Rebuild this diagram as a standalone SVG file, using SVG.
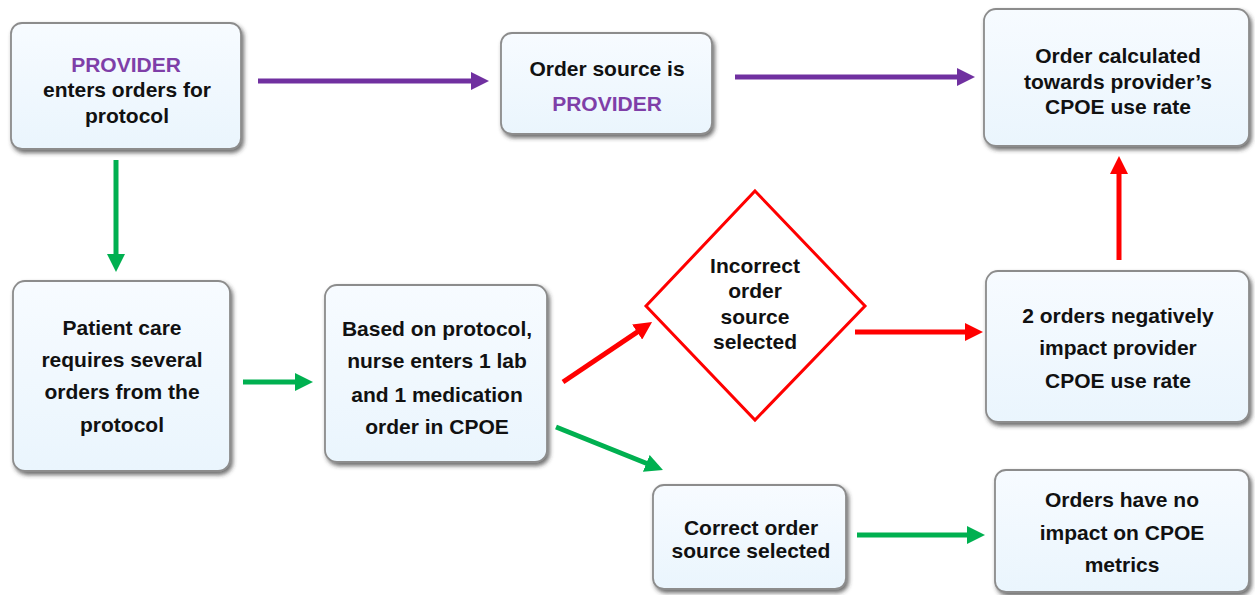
<svg xmlns="http://www.w3.org/2000/svg" width="1255" height="595" viewBox="0 0 1255 595">
<defs>
<linearGradient id="bg" x1="0" y1="0" x2="0" y2="1">
<stop offset="0" stop-color="#f7fbff"/>
<stop offset="1" stop-color="#eaf5fd"/>
</linearGradient>
<filter id="sh" x="-10%" y="-10%" width="125%" height="130%">
<feDropShadow dx="2" dy="3" stdDeviation="2" flood-color="#303030" flood-opacity="0.7"/>
</filter>
<marker id="ap" viewBox="0 0 18 18" refX="8" refY="9" markerWidth="18" markerHeight="18" markerUnits="userSpaceOnUse" orient="auto"><path d="M0,0 L18,9 L0,18 z" fill="#7030a0"/></marker>
<marker id="ag" viewBox="0 0 18 18" refX="8" refY="9" markerWidth="18" markerHeight="18" markerUnits="userSpaceOnUse" orient="auto"><path d="M0,0 L18,9 L0,18 z" fill="#00b050"/></marker>
<marker id="ar" viewBox="0 0 18 18" refX="8" refY="9" markerWidth="18" markerHeight="18" markerUnits="userSpaceOnUse" orient="auto"><path d="M0,0 L18,9 L0,18 z" fill="#ff0000"/></marker>
</defs>
<style>
.box{fill:url(#bg);stroke:#8c8c8c;stroke-width:1.8;filter:url(#sh)}
.t{font-family:"Liberation Sans",Arial,sans-serif;font-weight:bold;font-size:21px;fill:#111111;text-anchor:middle}
.pu{fill:#7f3fa8}
.cp{fill:none;stroke:#7030a0;stroke-width:5}
.cg{fill:none;stroke:#00b050;stroke-width:5}
.cr{fill:none;stroke:#ff0000;stroke-width:5}
</style>
<rect width="1255" height="595" fill="#ffffff"/>

<g id="connectors">
<line class="cp" x1="258" y1="81" x2="479" y2="81" marker-end="url(#ap)"/>
<line class="cp" x1="735" y1="77" x2="965" y2="77" marker-end="url(#ap)"/>
<line class="cg" x1="116" y1="160" x2="116" y2="262" marker-end="url(#ag)"/>
<line class="cg" x1="243" y1="382" x2="303" y2="382" marker-end="url(#ag)"/>
<line class="cr" x1="563" y1="382" x2="643.8" y2="327.6" marker-end="url(#ar)"/>
<line class="cg" x1="556" y1="427" x2="653.7" y2="466.3" marker-end="url(#ag)"/>
<line class="cr" x1="855" y1="332" x2="973" y2="332" marker-end="url(#ar)"/>
<line class="cr" x1="1119" y1="260" x2="1119" y2="166" marker-end="url(#ar)"/>
<line class="cg" x1="857" y1="535" x2="975" y2="535" marker-end="url(#ag)"/>
</g>

<g id="n-provider">
<rect class="box" x="11" y="23" width="230" height="126" rx="11"/>
<text class="t pu" x="126" y="72">PROVIDER</text>
<text class="t" x="127" y="97">enters orders for</text>
<text class="t" x="127" y="123">protocol</text>
</g>

<g id="n-source">
<rect class="box" x="501" y="33" width="211" height="101" rx="11"/>
<text class="t" x="607" y="76">Order source is</text>
<text class="t pu" x="607" y="111">PROVIDER</text>
</g>

<g id="n-calc">
<rect class="box" x="984" y="9" width="265" height="137" rx="12"/>
<text class="t" x="1118" y="63">Order calculated</text>
<text class="t" x="1118" y="89">towards provider’s</text>
<text class="t" x="1118" y="114">CPOE use rate</text>
</g>

<g id="n-patient">
<rect class="box" x="13" y="281" width="217" height="190" rx="12"/>
<text class="t" x="122" y="335">Patient care</text>
<text class="t" x="122" y="367">requires several</text>
<text class="t" x="122" y="399">orders from the</text>
<text class="t" x="122" y="432">protocol</text>
</g>

<g id="n-nurse">
<rect class="box" x="325" y="285" width="222" height="177" rx="12"/>
<text class="t" x="437" y="336">Based on protocol,</text>
<text class="t" x="437" y="368">nurse enters 1 lab</text>
<text class="t" x="437" y="402">and 1 medication</text>
<text class="t" x="437" y="434">order in CPOE</text>
</g>

<g id="n-incorrect">
<polygon points="755,191 865,306 755,420 646,306" fill="#ffffff" stroke="#ff0000" stroke-width="3"/>
<text class="t" x="755" y="273">Incorrect</text>
<text class="t" x="755" y="298">order</text>
<text class="t" x="755" y="324">source</text>
<text class="t" x="755" y="349">selected</text>
</g>

<g id="n-negative">
<rect class="box" x="986" y="271" width="263" height="151" rx="12"/>
<text class="t" x="1118" y="323">2 orders negatively</text>
<text class="t" x="1118" y="355">impact provider</text>
<text class="t" x="1118" y="388">CPOE use rate</text>
</g>

<g id="n-correct">
<rect class="box" x="653" y="485" width="193" height="104" rx="11"/>
<text class="t" x="751" y="535">Correct order</text>
<text class="t" x="751" y="558">source selected</text>
</g>

<g id="n-noimpact">
<rect class="box" x="995" y="470" width="254" height="122" rx="11"/>
<text class="t" x="1122" y="507">Orders have no</text>
<text class="t" x="1122" y="540">impact on CPOE</text>
<text class="t" x="1122" y="572">metrics</text>
</g>
</svg>
